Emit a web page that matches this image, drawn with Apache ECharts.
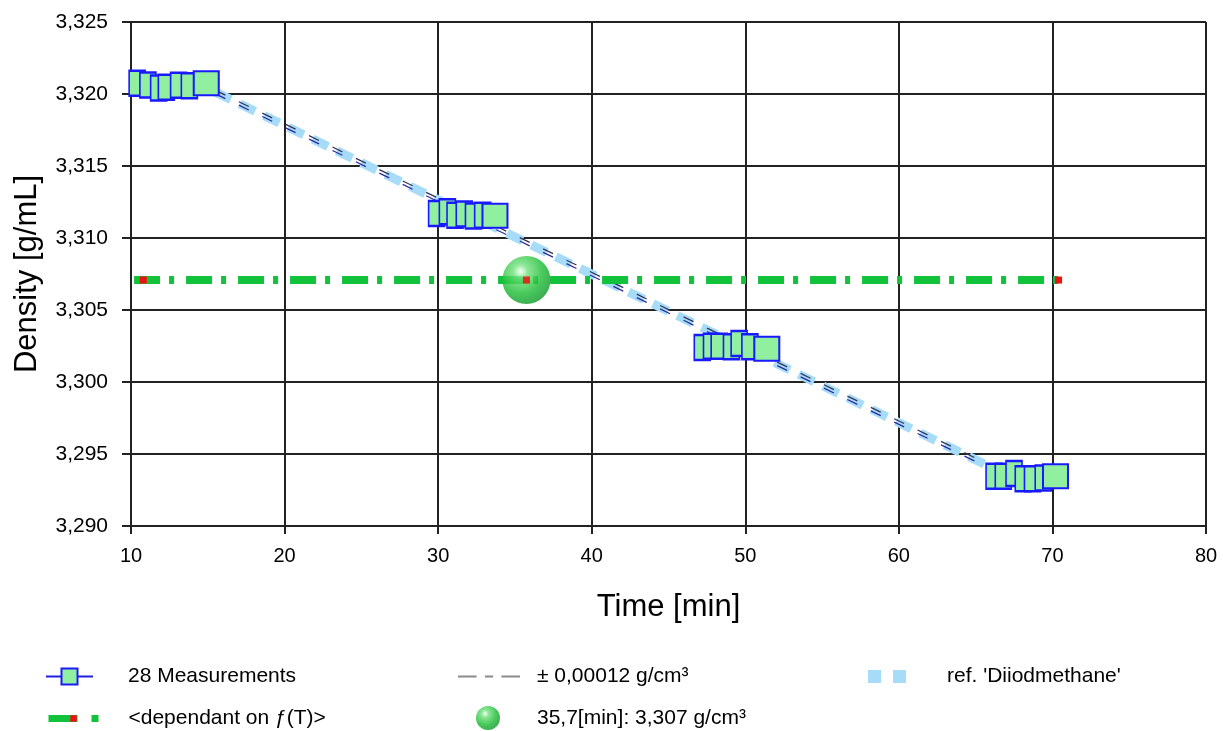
<!DOCTYPE html>
<html>
<head>
<meta charset="utf-8">
<script src="https://cdn.jsdelivr.net/npm/echarts@6/dist/echarts.min.js"></script>
<style>
  html, body { margin: 0; padding: 0; background: #fff; }
  #chart { width: 1223px; height: 731px; }
</style>
</head>
<body>
<div id="chart"></div>
<script>
// measured density vs time, 4 groups of 7
var measTime = [10.4, 11.1, 11.8, 12.3, 13.1, 13.8, 14.9,
                29.9, 30.6, 31.1, 31.7, 32.3, 32.9, 33.7,
                47.2, 47.8, 48.3, 49.1, 49.6, 50.3, 51.4,
                66.2, 66.8, 67.5, 68.1, 68.7, 69.4, 70.2];
var measDensity = [3.32074, 3.32063, 3.32042, 3.32047, 3.32060, 3.32058, 3.32074,
                   3.31171, 3.31183, 3.31158, 3.31167, 3.31153, 3.31158, 3.31155,
                   3.30240, 3.30249, 3.30249, 3.30245, 3.30267, 3.30245, 3.30231,
                   3.29346, 3.29346, 3.29365, 3.29328, 3.29328, 3.29333, 3.29346];
// reference line 'Diiodmethane'
var refTime = [15.5, 66];
var refDensity = [3.32013, 3.29408];
var tolerance = 0.00012;
// dependant on f(T): line start, then the three marked points
var depStart = 10.2;
var depTime = [10.8, 35.75, 70.4];
var depDensity = 3.30708;
var pointTime = 35.75;
var pointDensity = 3.30708;

var xTicks = {min: 10, max: 80, step: 10};
var yTicks = {min: 3.290, max: 3.325, step: 0.005};

var FONT = '"Liberation Sans", Arial, sans-serif';

function pairs(xs, ys, shift) {
    var out = [];
    for (var i = 0; i < xs.length; i++) {
        out.push([xs[i], ys[i] + (shift || 0)]);
    }
    return out;
}

function depData() {
    var out = [{ value: [depStart, depDensity], symbol: 'none' }];
    for (var i = 0; i < depTime.length; i++) {
        out.push([depTime[i], depDensity]);
    }
    return out;
}

var myChart = echarts.init(document.getElementById('chart'));

var legendText = { fontFamily: FONT, fontSize: 21, color: '#000' };
function legendTextPad(p) {
    return Object.assign({}, legendText, { padding: [0, 0, 0, p] });
}

var option = {
    animation: false,
    backgroundColor: '#fff',
    grid: { left: 131, top: 22, right: 17, bottom: 205, outerBoundsMode: 'none', containLabel: false },
    xAxis: {
        type: 'value',
        min: xTicks.min, max: xTicks.max, interval: xTicks.step,
        name: 'Time [min]',
        nameLocation: 'middle',
        nameGap: 66,
        nameTextStyle: { fontFamily: FONT, fontSize: 31, color: '#000' },
        axisLine: { lineStyle: { color: '#222', width: 2 } },
        axisTick: { show: true, length: 8, lineStyle: { color: '#222', width: 2 } },
        axisLabel: { fontFamily: FONT, fontSize: 20, color: '#000', margin: 20 },
        splitLine: { show: true, lineStyle: { color: '#222', width: 2 } }
    },
    yAxis: {
        type: 'value',
        min: yTicks.min, max: yTicks.max, interval: yTicks.step,
        name: 'Density [g/mL]',
        nameLocation: 'middle',
        nameGap: 88,
        nameRotate: 90,
        nameTextStyle: { fontFamily: FONT, fontSize: 31, color: '#000' },
        axisLine: { show: true, lineStyle: { color: '#222', width: 2 } },
        axisTick: { show: true, length: 9, lineStyle: { color: '#222', width: 2 } },
        axisLabel: {
            fontFamily: FONT, fontSize: 21, color: '#000', margin: 23,
            formatter: function (v) { return v.toFixed(3).replace('.', ','); }
        },
        splitLine: { show: true, lineStyle: { color: '#222', width: 2 } }
    },
    legend: [
        {
            data: [{ name: '28 Measurements', lineStyle: { width: 2, color: '#2020e0', type: 'solid', opacity: 1 } }],
            left: 45, top: 666, padding: 0, itemWidth: 47, itemHeight: 20,
            textStyle: legendTextPad(30)
        },
        {
            data: [{ name: '± 0,00012 g/cm³', icon: 'path://M0,0h18v2h-18zM26,0h8v2h-8zM42,0h18v2h-18z' }],
            left: 458, top: 666, padding: 0, itemWidth: 62, itemHeight: 20,
            textStyle: legendTextPad(12)
        },
        {
            data: [{ name: "ref. 'Diiodmethane'", icon: 'path://M0,0h13v13h-13zM25,0h13v13h-13z' }],
            left: 868, top: 666, padding: 0, itemWidth: 40, itemHeight: 13,
            textStyle: legendTextPad(35)
        },
        {
            data: [{ name: '<dependant on ƒ(T)>', lineStyle: { width: 7, type: [29, 14, 7] } }],
            left: 45, top: 708, padding: 0, itemWidth: 50, itemHeight: 8,
            textStyle: legendTextPad(25)
        },
        {
            data: [{ name: '35,7[min]: 3,307 g/cm³', icon: 'circle' }],
            left: 476, top: 706, padding: 0, itemWidth: 24, itemHeight: 24,
            textStyle: legendTextPad(32)
        }
    ],
    series: [
        {
            name: "ref. 'Diiodmethane'",
            type: 'line',
            data: pairs(refTime, refDensity),
            symbol: 'none',
            color: '#a6dcf8',
            lineStyle: { color: '#a6dcf8', width: 9, type: [17, 10] },
            z: 2
        },
        {
            name: '± 0,00012 g/cm³',
            type: 'line',
            data: pairs(refTime, refDensity, tolerance),
            symbol: 'none',
            color: '#8a8a8a',
            lineStyle: { color: '#34345a', width: 1.3, type: [11, 15] },
            z: 3
        },
        {
            name: '± 0,00012 g/cm³',
            type: 'line',
            data: pairs(refTime, refDensity, -tolerance),
            symbol: 'none',
            color: '#8a8a8a',
            lineStyle: { color: '#2a2aa0', width: 1.3, type: [11, 15] },
            z: 3
        },
        {
            name: '<dependant on ƒ(T)>',
            type: 'line',
            data: depData(),
            symbol: 'rect',
            symbolSize: 7,
            showAllSymbol: true,
            color: '#ee1111',
            itemStyle: { color: '#ee1111', borderWidth: 0 },
            lineStyle: { color: '#12c23a', width: 8, type: [26, 9, 5, 12] },
            z: 4
        },
        {
            name: '35,7[min]: 3,307 g/cm³',
            type: 'scatter',
            data: [[pointTime, pointDensity]],
            symbol: 'circle',
            symbolSize: 48,
            itemStyle: {
                color: {
                    type: 'radial', x: 0.38, y: 0.32, r: 0.7,
                    colorStops: [
                        { offset: 0, color: '#f2fff2' },
                        { offset: 0.22, color: '#6ee07a' },
                        { offset: 0.65, color: '#1cbc34' },
                        { offset: 1, color: '#0c9a26' }
                    ]
                }
            },
            z: 5
        },
        {
            name: 'dep point',
            type: 'scatter',
            data: [[pointTime, pointDensity]],
            symbol: 'rect',
            symbolSize: 7,
            itemStyle: { color: '#ee1111' },
            z: 6
        },
        {
            name: '28 Measurements',
            type: 'line',
            data: pairs(measTime, measDensity),
            symbol: 'rect',
            symbolSize: function (v, p) {
                return p.dataIndex % 7 === 6 ? [25, 24] : [16, 25];
            },
            showAllSymbol: true,
            color: '#90f0a0',
            itemStyle: { color: '#90f0a0', borderColor: '#1a1aff', borderWidth: 2 },
            lineStyle: { width: 0, opacity: 0 },
            z: 7
        }
    ]
};

myChart.setOption(option);
</script>
</body>
</html>
